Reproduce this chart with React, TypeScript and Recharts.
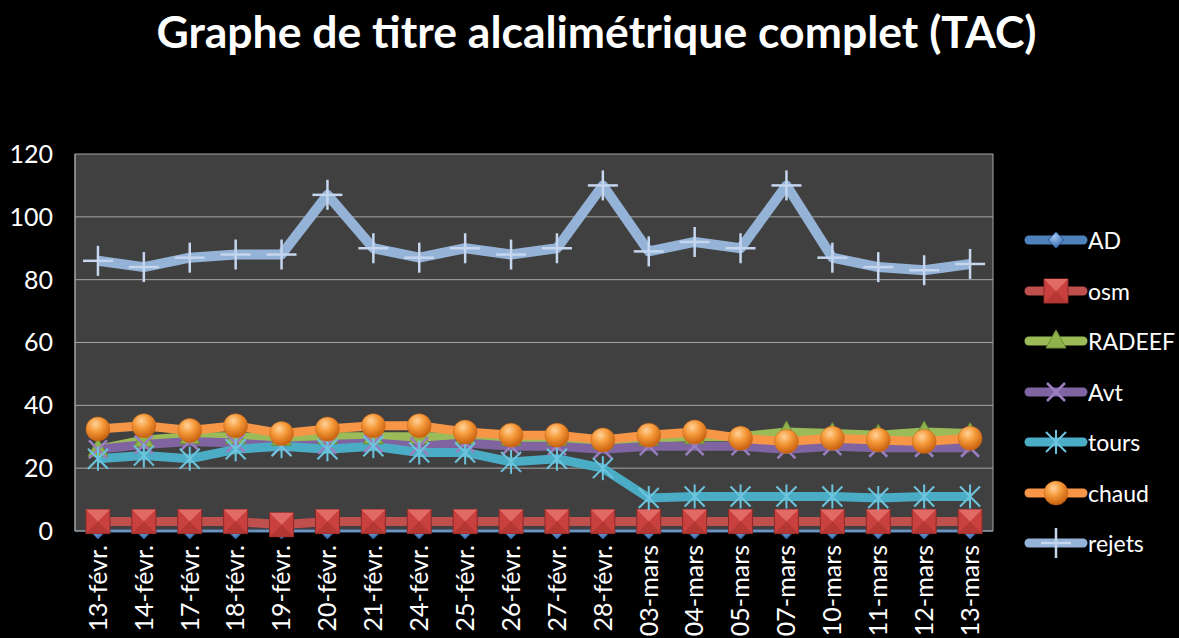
import { LineChart, Line, XAxis, YAxis, CartesianGrid, Legend } from 'recharts'

const categories = ['13-févr.', '14-févr.', '17-févr.', '18-févr.', '19-févr.', '20-févr.', '21-févr.', '24-févr.', '25-févr.', '26-févr.', '27-févr.', '28-févr.', '03-mars', '04-mars', '05-mars', '07-mars', '10-mars', '11-mars', '12-mars', '13-mars']
const AD = [0, 0, 0, 0, 0, 0, 0, 0, 0, 0, 0, 0, 0, 0, 0, 0, 0, 0, 0, 0]
const osm = [3, 3, 3, 3, 2, 3, 3, 3, 3, 3, 3, 3, 3, 3, 3, 3, 3, 3, 3, 3]
const RADEEF = [26, 29, 30, 30, 29.5, 30, 30, 30, 30, 29.5, 29.5, 28.5, 29.5, 30, 30, 31.5, 31, 30.5, 31.5, 31]
const Avt = [26, 27.5, 28.5, 28, 27, 27.5, 28, 27, 28, 27, 27, 26, 27, 27, 27, 26, 27, 26.5, 26.5, 26.5]
const tours = [23, 24, 23, 26, 27, 26, 27, 25, 25, 22, 23, 20, 10.5, 11, 11, 11, 11, 10.5, 11, 11]
const chaud = [32.5, 33.5, 32, 33.5, 31, 32.5, 33.5, 33.5, 31.5, 30.5, 30.5, 29, 30.5, 31.5, 29.5, 28.5, 29.5, 29, 28.5, 29.5]
const rejets = [86, 84, 87, 88, 88, 107, 90, 87, 90, 88, 90, 110, 89, 92, 90, 110, 87, 84, 83, 85]
const yTicks = [0, 20, 40, 60, 80, 100, 120]

const data = categories.map((date, i) => ({
  date, AD: AD[i], osm: osm[i], RADEEF: RADEEF[i], Avt: Avt[i], tours: tours[i], chaud: chaud[i], rejets: rejets[i],
}))

const FONT = 'Lato, "Open Sans", sans-serif'
const W = 1179
const H = 638
const PLOT_RIGHT = 186
const Y_W = 75
// half a category band, so points sit in the middle of each date slot
const HALF_BAND = (W - PLOT_RIGHT - Y_W) / categories.length / 2

const SERIES = [
  { key: 'AD', color: '#4F81BD', shape: 'diamond', width: 3 },
  { key: 'osm', color: '#C0504D', shape: 'square', width: 9 },
  { key: 'RADEEF', color: '#9BBB59', shape: 'triangle', width: 9 },
  { key: 'Avt', color: '#8064A2', shape: 'x', width: 9 },
  { key: 'tours', color: '#4BACC6', shape: 'star', width: 9 },
  { key: 'chaud', color: '#F79646', shape: 'circle', width: 9 },
  { key: 'rejets', color: '#95B3D7', shape: 'plus', width: 10 },
]

function Marker({ cx, cy, shape }: { cx: number; cy: number; shape: string }) {
  if (cx == null || cy == null) return null
  switch (shape) {
    case 'diamond':
      return <path d={`M${cx},${cy - 8}L${cx + 8},${cy}L${cx},${cy + 8}L${cx - 8},${cy}Z`} fill="url(#gBlue)" stroke="#2c5a94" strokeWidth={1} />
    case 'square':
      return (
        <g>
          <rect x={cx - 12} y={cy - 12} width={24} height={24} fill="#C9413E" stroke="#8b2a28" strokeWidth={1} />
          <path d={`M${cx - 12},${cy - 12}L${cx + 12},${cy - 12}L${cx},${cy}Z`} fill="#E26A66" />
          <path d={`M${cx - 12},${cy + 12}L${cx + 12},${cy + 12}L${cx},${cy}Z`} fill="#B43733" />
        </g>
      )
    case 'triangle':
      return <path d={`M${cx},${cy - 11}L${cx + 10},${cy + 7}L${cx - 10},${cy + 7}Z`} fill="#8FB34A" stroke="#6a8a32" strokeWidth={1} />
    case 'x':
      return (
        <g stroke="#9a7fc0" strokeWidth={2.5}>
          <line x1={cx - 9} y1={cy - 9} x2={cx + 9} y2={cy + 9} />
          <line x1={cx - 9} y1={cy + 9} x2={cx + 9} y2={cy - 9} />
        </g>
      )
    case 'star':
      return (
        <g stroke="#6CC5DD" strokeWidth={2}>
          <line x1={cx - 10} y1={cy - 10} x2={cx + 10} y2={cy + 10} />
          <line x1={cx - 10} y1={cy + 10} x2={cx + 10} y2={cy - 10} />
          <line x1={cx} y1={cy - 12} x2={cx} y2={cy + 12} />
        </g>
      )
    case 'circle':
      return <circle cx={cx} cy={cy} r={12} fill="url(#gOrange)" stroke="#c8661a" strokeWidth={0.5} />
    case 'plus':
      return (
        <g stroke="#C5D6EE" strokeWidth={2.5}>
          <line x1={cx} y1={cy - 15} x2={cx} y2={cy + 15} />
          <line x1={cx - 15} y1={cy} x2={cx + 15} y2={cy} />
        </g>
      )
  }
  return null
}

function XTick({ x, y, payload }: any) {
  return (
    <text x={x} y={y} transform={`rotate(-90, ${x}, ${y})`} textAnchor="end" dy="0.35em" fill="#fff" fontSize={25} fontFamily={FONT}>
      {payload.value}
    </text>
  )
}

function LegendBox() {
  return (
    <div style={{ fontFamily: FONT, color: '#fff', fontSize: 23 }}>
      {SERIES.map((s) => (
        <div key={s.key} style={{ display: 'flex', alignItems: 'center', height: 50.5 }}>
          <svg width={64} height={30}>
            <line x1={5} x2={59} y1={15} y2={15} stroke={s.color} strokeWidth={9} strokeLinecap="round" />
            <Marker cx={32} cy={15} shape={s.shape} />
          </svg>
          <span>{s.key}</span>
        </div>
      ))}
    </div>
  )
}

export default function App() {
  return (
    <div style={{ position: 'absolute', left: 0, top: 0, width: W, height: H, background: '#000', overflow: 'hidden' }}>
      <svg width={0} height={0} style={{ position: 'absolute' }}>
        <defs>
          <radialGradient id="gOrange" cx="40%" cy="30%" r="70%">
            <stop offset="0%" stopColor="#FFD29A" />
            <stop offset="45%" stopColor="#F59A3A" />
            <stop offset="100%" stopColor="#C8600E" />
          </radialGradient>
          <radialGradient id="gBlue" cx="40%" cy="30%" r="70%">
            <stop offset="0%" stopColor="#9cc3f0" />
            <stop offset="100%" stopColor="#3a6db0" />
          </radialGradient>
        </defs>
      </svg>
      <div style={{ position: 'absolute', left: 0, top: 4, width: W, textAlign: 'center', paddingLeft: 14, boxSizing: 'border-box', color: '#fff', fontFamily: FONT, fontWeight: 700, fontSize: 44.5 }}>
        Graphe de titre alcalimétrique complet (TAC)
      </div>
      <LineChart width={W} height={H} data={data} margin={{ top: 154, right: PLOT_RIGHT, bottom: 0, left: 0 }}>
        <CartesianGrid
          fill="#404040"
          stroke="#a6a6a6"
          strokeWidth={1}
          verticalCoordinatesGenerator={({ offset }: any) => [offset.left, offset.left + offset.width]}
        />
        <XAxis dataKey="date" height={107} interval={0} tickSize={0} tickMargin={14} tick={<XTick />}
          padding={{ left: HALF_BAND, right: HALF_BAND }} axisLine={{ stroke: '#8fa3bd' }} />
        <YAxis width={Y_W} domain={[0, 120]} ticks={yTicks} tickSize={0} tickMargin={22} axisLine={{ stroke: '#a6a6a6' }}
          tick={{ fill: '#fff', fontSize: 25, fontFamily: FONT }} />
        {SERIES.map((s) => (
          <Line
            key={s.key}
            dataKey={s.key}
            stroke={s.color}
            strokeWidth={s.width}
            strokeLinejoin="round"
            isAnimationActive={false}
            dot={(p: any) => <Marker key={`${s.key}-${p.index}`} cx={p.cx} cy={p.cy} shape={s.shape} />}
            activeDot={false}
          />
        ))}
        <Legend layout="vertical" align="center" verticalAlign="middle" content={<LegendBox />}
          wrapperStyle={{ left: 1024, top: 215, width: 155 }} />
      </LineChart>
    </div>
  )
}
